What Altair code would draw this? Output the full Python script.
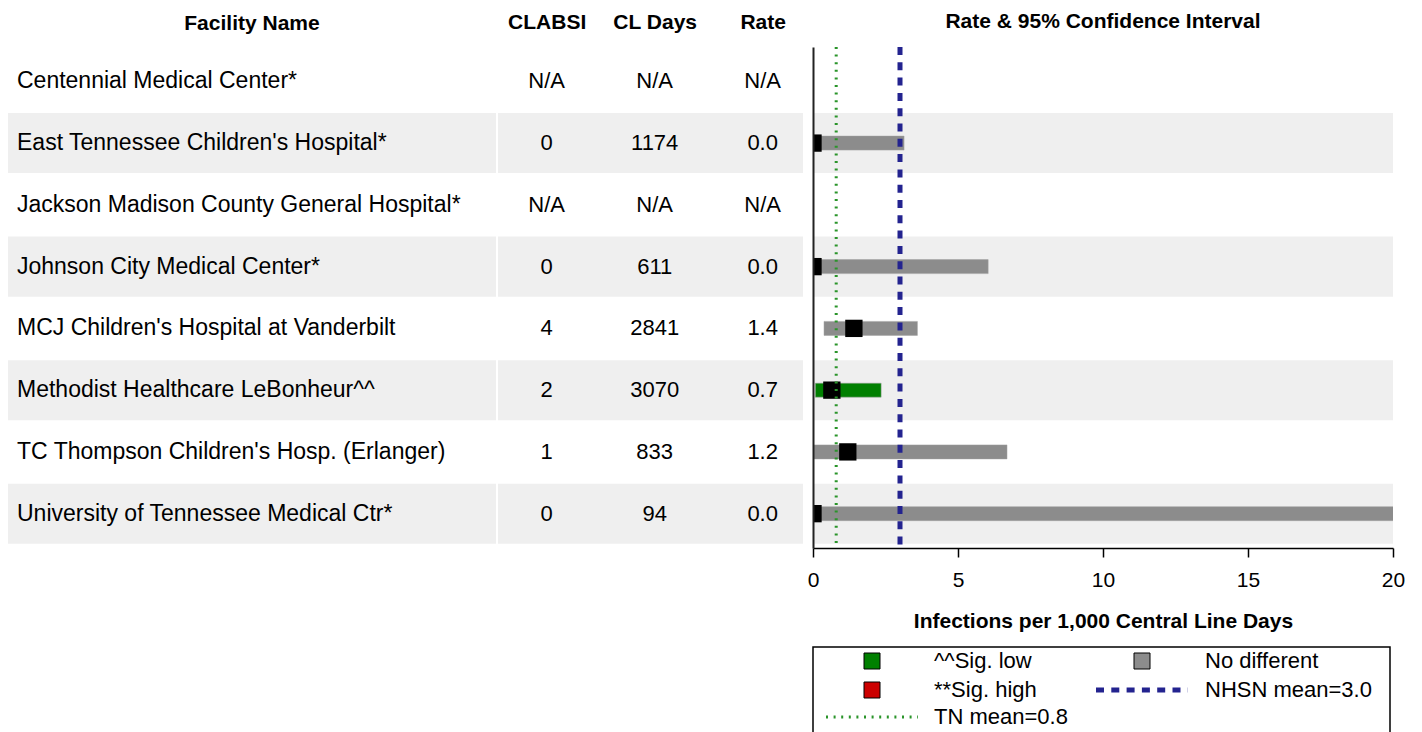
import altair as alt
import pandas as pd

# ---------------- data ----------------
facilities = [
    "Centennial Medical Center*",
    "East Tennessee Children's Hospital*",
    "Jackson Madison County General Hospital*",
    "Johnson City Medical Center*",
    "MCJ Children's Hospital at Vanderbilt",
    "Methodist Healthcare LeBonheur^^",
    "TC Thompson Children's Hosp. (Erlanger)",
    "University of Tennessee Medical Ctr*",
]
clabsi = ["N/A", "0", "N/A", "0", "4", "2", "1", "0"]
cl_days = ["N/A", "1174", "N/A", "611", "2841", "3070", "833", "94"]
rate_text = ["N/A", "0.0", "N/A", "0.0", "1.4", "0.7", "1.2", "0.0"]
rate = [None, 0.0, None, 0.0, 1.41, 0.65, 1.20, 0.0]
ci_low = [None, 0.0, None, 0.0, 0.38, 0.08, 0.03, 0.0]
ci_high = [None, 3.14, None, 6.04, 3.60, 2.35, 6.69, 39.2]
status = ["N/A", "No different", "N/A", "No different", "No different",
          "Sig. low", "No different", "No different"]
table_cols = ["CLABSI", "CL Days", "Rate"]
x_ticks = [0, 5, 10, 15, 20]
tn_mean = 0.8
nhsn_mean = 3.0

status_domain = ["Sig. low", "Sig. high", "No different"]
status_colors = ["#008000", "#cc0000", "#8c8c8c"]

legend_labels = ["^^Sig. low", "No different", "**Sig. high", "NHSN mean=3.0", "TN mean=0.8"]
legend_kinds = ["square", "square", "square", "nhsn", "tn"]
legend_fill = ["#008000", "#8c8c8c", "#cc0000", None, None]
legend_col = [0, 1, 0, 1, 0]
legend_row = [0, 0, 1, 1, 2]

# ---------------- layout constants ----------------
FONT = "Liberation Sans"
ROW_H = 501
NAME_W, NUM_W, PLOT_W = 488, 305, 580
LEG_W, LEG_H = 577, 88
SHADE = "#efefef"
HEAD_FS = 21
BODY_FS = 22
NAME_FS = 23
sym_x = [59, 329]
txt_x = [121, 392]
row_y = [14, 43, 70]
half_line = 46

df = pd.DataFrame({
    "facility": facilities,
    "clabsi": clabsi,
    "days": cl_days,
    "rate_text": rate_text,
    "rate": rate,
    "lo": ci_low,
    "hi": ci_high,
    "status": status,
})
df["shade"] = [i % 2 == 1 for i in range(len(df))]

yscale = alt.Scale(domain=facilities, paddingInner=0.028, paddingOuter=0.07)
Y = alt.Y("facility:N", sort=facilities, scale=yscale, axis=None)

base = alt.Chart(df)
bg = base.transform_filter("datum.shade").mark_rect(color=SHADE).encode(y=Y)


def head_title(text):
    return alt.TitleParams(text, fontSize=HEAD_FS, fontWeight="bold", anchor="middle",
                           offset=13, color="black")


# ---------------- name panel ----------------
name_txt = base.mark_text(align="left", baseline="middle", fontSize=NAME_FS, dx=9, color="black").encode(
    y=Y, x=alt.value(0), text="facility:N"
)
name_panel = alt.layer(bg, name_txt).properties(
    width=NAME_W, height=ROW_H, title=head_title("Facility Name"),
)

# ---------------- numbers panel ----------------
long = pd.DataFrame({
    "facility": facilities * 3,
    "col": sum([[c] * len(facilities) for c in table_cols], []),
    "val": clabsi + cl_days + rate_text,
})
X_num = alt.X(
    "col:N", sort=table_cols,
    scale=alt.Scale(domain=table_cols, type="point", padding=0.412, align=0.547),
    axis=alt.Axis(orient="top", title=None, ticks=False, domain=False, labelAngle=0,
                  labelFontSize=HEAD_FS, labelFontWeight="bold", labelPadding=15, labelColor="black"),
)
num_bg = alt.Chart(df).transform_filter("datum.shade").mark_rect(color=SHADE).encode(y=Y)
num_txt = alt.Chart(long).mark_text(align="center", baseline="middle", fontSize=BODY_FS, color="black").encode(
    x=X_num, y=Y, text="val:N"
)
num_panel = alt.layer(num_bg, num_txt).properties(width=NUM_W, height=ROW_H)

# ---------------- plot panel ----------------
Yp = alt.Y("facility:N", sort=facilities, scale=yscale,
           axis=alt.Axis(labels=False, ticks=False, title=None, grid=False,
                         domain=True, domainColor="#222", domainWidth=2))
xscale = alt.Scale(domain=[0, 20], nice=False, zero=True)
X_lo = alt.X(
    "lo:Q", scale=xscale,
    axis=alt.Axis(title="Infections per 1,000 Central Line Days", titleFontSize=HEAD_FS,
                  titleFontWeight="bold", titleColor="black", titlePadding=20,
                  labelFontSize=HEAD_FS, labelColor="black", labelPadding=12, labelFlush=False,
                  tickSize=9, tickColor="black", tickWidth=1.5,
                  domainColor="black", domainWidth=1.5, grid=False, values=x_ticks),
)
valid = base.transform_filter("datum.rate != null")
plot_bg = base.transform_filter("datum.shade").mark_rect(color=SHADE).encode(y=Yp)
bars = valid.mark_bar(height=14, clip=True, stroke="#a0a0a0", strokeWidth=0.5).encode(
    x=X_lo, x2="hi:Q", y=Yp,
    color=alt.Color("status:N", scale=alt.Scale(domain=status_domain, range=status_colors), legend=None),
)
points = valid.mark_square(size=300, color="black", opacity=1, clip=True).encode(
    x=alt.X("rate:Q", scale=xscale), y=Yp
)
tn_rule = alt.Chart(pd.DataFrame({"v": [tn_mean]})).mark_rule(
    color="#2a942a", strokeWidth=3, strokeDash=[2, 5.6]
).encode(x=alt.X("v:Q", scale=xscale))
nhsn_rule = alt.Chart(pd.DataFrame({"v": [nhsn_mean]})).mark_rule(
    color="#23238f", strokeWidth=5, strokeDash=[8, 7.3]
).encode(x=alt.X("v:Q", scale=xscale))
plot_panel = alt.layer(plot_bg, bars, points, tn_rule, nhsn_rule).properties(
    width=PLOT_W, height=ROW_H, title=head_title("Rate & 95% Confidence Interval"),
)

# ---------------- legend panel ----------------
leg = pd.DataFrame({
    "label": legend_labels, "kind": legend_kinds, "fill": legend_fill,
    "col": legend_col, "row": legend_row,
})
leg["sx"] = [sym_x[c] for c in leg["col"]]
leg["tx"] = [txt_x[c] for c in leg["col"]]
leg["sy"] = [row_y[r] for r in leg["row"]]
leg["lx1"] = leg["sx"] - half_line
leg["lx2"] = leg["sx"] + half_line

lxs = alt.Scale(domain=[0, LEG_W], nice=False, zero=False)
lys = alt.Scale(domain=[0, LEG_H], nice=False, zero=False, reverse=True)
lbase = alt.Chart(leg)
leg_sq = lbase.transform_filter("datum.kind == 'square'").mark_square(
    size=256, opacity=1, stroke="black", strokeWidth=1
).encode(
    x=alt.X("sx:Q", scale=lxs, axis=None), y=alt.Y("sy:Q", scale=lys, axis=None),
    fill=alt.Fill("fill:N", scale=None),
)
leg_tn = lbase.transform_filter("datum.kind == 'tn'").mark_rule(
    color="#2a942a", strokeWidth=3, strokeDash=[2, 5.6]
).encode(x=alt.X("lx1:Q", scale=lxs, axis=None), x2="lx2:Q", y=alt.Y("sy:Q", scale=lys, axis=None))
leg_nh = lbase.transform_filter("datum.kind == 'nhsn'").mark_rule(
    color="#23238f", strokeWidth=5, strokeDash=[8, 7.3]
).encode(x=alt.X("lx1:Q", scale=lxs, axis=None), x2="lx2:Q", y=alt.Y("sy:Q", scale=lys, axis=None))
leg_txt = lbase.mark_text(align="left", baseline="middle", fontSize=BODY_FS, color="black").encode(
    x=alt.X("tx:Q", scale=lxs, axis=None), y=alt.Y("sy:Q", scale=lys, axis=None), text="label:N"
)
legend_panel = alt.layer(leg_sq, leg_tn, leg_nh, leg_txt).properties(
    width=LEG_W, height=LEG_H,
    view=alt.ViewBackground(stroke="black", strokeWidth=1.5),
)

right = alt.vconcat(plot_panel, legend_panel, spacing=99, bounds="flush")
left = alt.hconcat(name_panel, num_panel, spacing=2, bounds="flush")
chart = alt.hconcat(left, right, spacing=4).properties(
    padding={"left": 0, "top": 2, "right": 5, "bottom": 5}
).configure(font=FONT).configure_view(stroke=None)

chart.save("out.html", embed_options={"renderer": "svg", "actions": False})
